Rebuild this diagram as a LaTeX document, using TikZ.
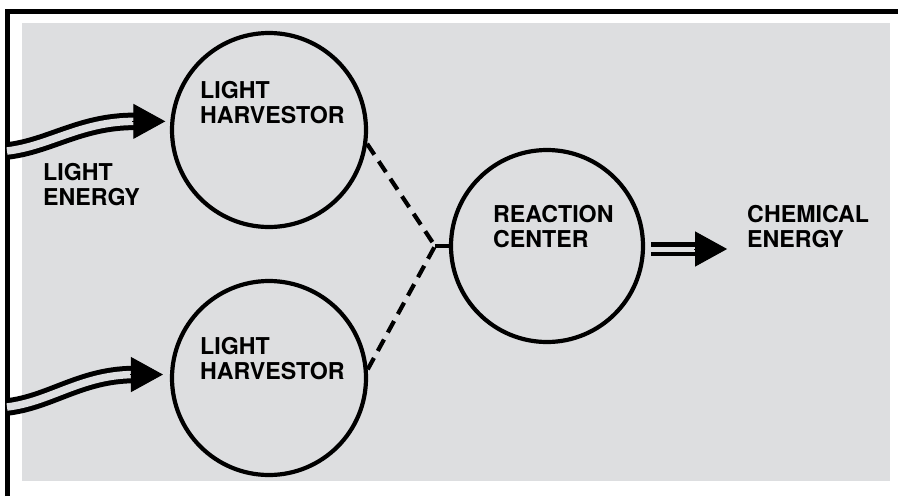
\documentclass[tikz,border=0pt]{standalone}
\usepackage{fontspec}
\usetikzlibrary{arrows.meta,calc}
\newfontfamily\labfont{TeX Gyre Heros}
\definecolor{bg}{RGB}{221,222,224}
\begin{document}
\begin{tikzpicture}[x=1pt,y=-1pt,
  circ/.style={circle,draw=black,line width=4.2pt,minimum size=194pt,inner sep=0pt},
  lab/.style={anchor=base west,align=left,inner sep=0pt,
    font=\labfont\bfseries\fontsize{23.2}{24.5}\selectfont},
  shaft/.style={line width=5pt,draw=black,double=bg,double distance=7.5pt},
  shaftr/.style={line width=4.5pt,draw=black,double=bg,double distance=5pt},
  head/.style={line width=1pt,-{Triangle[length=32pt,width=35pt]}},
  dashln/.style={line width=4.2pt,dash pattern=on 13pt off 8pt}]
\useasboundingbox (0,0) rectangle (898,496);
\fill[white] (0,0) rectangle (898,496);
\fill[bg] (22,23) rectangle (890,481);
\draw[line width=4.5pt] (7.5,496) -- (7.5,11.3) -- (898,11.3);

\node[circ] (h1) at (269,130) {};
\node[circ] (h2) at (269,378) {};
\node[circ,minimum size=192pt] (rc) at (547,246) {};

\node[lab] (t1) at (200,123) {LIGHT\\HARVESTOR};
\node[lab] (t2) at (200,379) {LIGHT\\HARVESTOR};
\node[lab] (t3) at (493,247) {REACTION\\CENTER};
\node[lab] (t4) at (747,247) {CHEMICAL\\ENERGY};
\node[lab] (t5) at (43,205) {LIGHT\\ENERGY};

% dashed links
\coordinate (j) at (435,246);
\draw[dashln] (h1.-8) -- (j);
\draw[dashln] (h2.5) -- (j);
\draw[line width=4.2pt] (j) -- (rc.west);

% light energy arrows
\coordinate (s1) at (7,151);
\coordinate (e1) at ($(h1.175)+(-5,0)$);
\draw[shaft] (s1) .. controls (50,146) and (80,121.5) .. ($(e1)+(-31,0)$);
\draw[head] ($(e1)+(-33,0)$) -- (e1);

\coordinate (s2) at (7,407);
\coordinate (e2) at ($(h2.178)+(-7,0)$);
\draw[shaft] (s2) .. controls (50,402) and (80,375.5) .. ($(e2)+(-31,0)$);
\draw[head] ($(e2)+(-33,0)$) -- (e2);

% chemical energy arrow
\coordinate (e3) at ($(rc.east)+(82,3)$);
\draw[shaftr] ($(rc.east)+(6,3)$) -- ($(e3)+(-31,0)$);
\draw[head] ($(e3)+(-33,0)$) -- (e3);
\end{tikzpicture}
\end{document}
